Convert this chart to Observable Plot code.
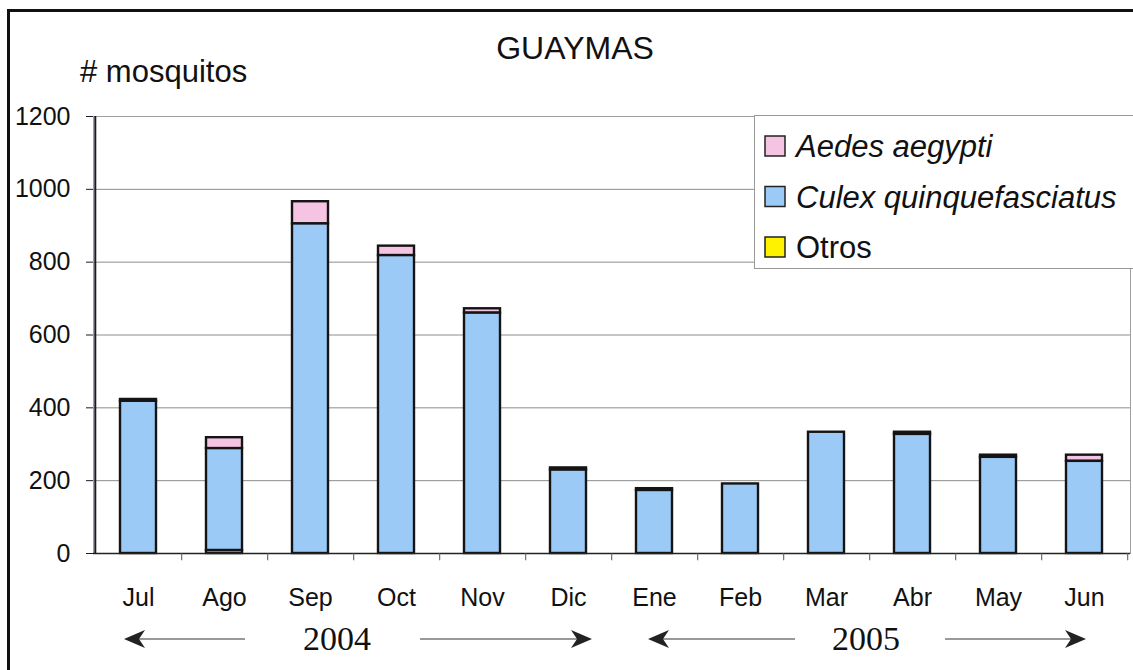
<!DOCTYPE html>
<html><head><meta charset="utf-8">
<script src="https://cdn.jsdelivr.net/npm/d3@7"></script>
<script src="https://cdn.jsdelivr.net/npm/@observablehq/plot@0.6"></script>
<style>
body{margin:0;background:#fff;}
#wrap{position:relative;width:1133px;height:670px;overflow:hidden;font-family:"Liberation Sans",Arial,sans-serif;background:#fff;}
#wrap svg{position:absolute;left:0;top:0;}
</style></head><body><div id="wrap"></div>
<script>
// ---- data ----
const months = ["Jul","Ago","Sep","Oct","Nov","Dic","Ene","Feb","Mar","Abr","May","Jun"];
const aedes  = [5, 30, 61, 26, 12, 6, 5, 0, 0, 6, 6, 17];
const culex  = [418, 280, 905, 818, 660, 229, 173, 191, 333, 327, 264, 253];
const otros  = [0, 8, 0, 0, 0, 0, 0, 0, 0, 0, 0, 0];
const species = ["Aedes aegypti", "Culex quinquefasciatus", "Otros"];
const speciesColors = ["#f4c4e2", "#9ccaf6", "#fff200"];
const yTicks = [0, 200, 400, 600, 800, 1000, 1200];
const years = ["2004", "2005"];
const titleText = "GUAYMAS";
const yLabel = "# mosquitos";

const rows = [];
months.forEach((m, i) => {
  [aedes, culex, otros].forEach((arr, j) => {
    if (arr[i] > 0) rows.push({month: m, species: species[j], value: arr[i]});
  });
});

// ---- layout ----
const W = 1133, H = 670, ml = 93, mr = 3, mt = 116, mb = 117;
const step = (W - ml - mr) / months.length;

const plot = Plot.plot({
  width: W, height: H,
  marginLeft: ml, marginRight: mr, marginTop: mt, marginBottom: mb,
  style: {fontFamily: "'Liberation Sans', Arial, sans-serif", background: "transparent", overflow: "visible"},
  x: {domain: months, paddingInner: 0.58, paddingOuter: 0.29, label: null},
  y: {domain: [0, 1200], label: null},
  color: {domain: species, range: speciesColors},
  marks: [
    Plot.gridY(yTicks.slice(1), {stroke: "#8c8c8c", strokeOpacity: 1, strokeWidth: 1}),
    Plot.frame({stroke: "#a0a0a0", strokeWidth: 1}),
    Plot.barY(rows, {
      x: "month", y: "value", fill: "species",
      order: ["Otros", "Culex quinquefasciatus", "Aedes aegypti"],
      stroke: "#141414", strokeWidth: 2.4
    }),
    Plot.ruleY([0], {stroke: "#222", strokeWidth: 1.5}),
    Plot.ruleX([months[0]], {dx: -step / 2, stroke: "#1a1a2a", strokeWidth: 2}),
    Plot.ruleX(months, {dx: step / 2, y1: 0, y2: -20, stroke: "#555", strokeWidth: 1}),
    Plot.axisY({ticks: yTicks, tickFormat: d => String(d), tickSize: 7, tickPadding: 16, fontSize: 25, stroke: "#1a1a2a", fill: "#111"}),
    Plot.axisX({tickSize: 0, tickPadding: 35, fontSize: 25, fill: "#111"})
  ]
});
document.getElementById("wrap").appendChild(plot);

// ---- overlay: frame, title, y label, legend, year arrows ----
const ov = d3.select("#wrap").append("svg")
  .attr("width", W).attr("height", H)
  .style("font-family", "'Liberation Sans', Arial, sans-serif");

ov.append("rect").attr("x", 8.5).attr("y", 10.5).attr("width", 1200).attr("height", 800)
  .attr("fill", "none").attr("stroke", "#111").attr("stroke-width", 3);

ov.append("text").attr("x", 575).attr("y", 59).attr("text-anchor", "middle")
  .attr("font-size", 32).attr("fill", "#111").text(titleText);
ov.append("text").attr("x", 80).attr("y", 82)
  .attr("font-size", 31).attr("fill", "#111").text(yLabel);

// legend
const lg = ov.append("g");
lg.append("rect").attr("x", 754.5).attr("y", 115.5).attr("width", 400).attr("height", 153)
  .attr("fill", "#fff").attr("stroke", "#999").attr("stroke-width", 1);
species.forEach((s, i) => {
  lg.append("rect").attr("x", 765).attr("y", 136 + i * 50.5).attr("width", 20).attr("height", 20)
    .attr("fill", speciesColors[i]).attr("stroke", "#222").attr("stroke-width", 1.5);
  lg.append("text").attr("x", 796).attr("y", 157 + i * 50.5)
    .attr("font-size", 31).attr("fill", "#111")
    .attr("font-style", s === "Otros" ? "normal" : "italic").text(s);
});

// year rows with arrows
const yearLayout = [
  {text: 337, l1: 124, l2: 245, r1: 420, r2: 592},
  {text: 866, l1: 648, l2: 795, r1: 945, r2: 1086}
];
const ay = 639;
years.forEach((yr, i) => {
  const L = yearLayout[i];
  ov.append("text").attr("x", L.text).attr("y", 650).attr("text-anchor", "middle")
    .attr("font-family", "'Liberation Serif', 'Times New Roman', serif")
    .attr("font-size", 34).attr("fill", "#111").text(yr);
  ov.append("line").attr("x1", L.l1 + 14).attr("x2", L.l2).attr("y1", ay).attr("y2", ay)
    .attr("stroke", "#777").attr("stroke-width", 1.5);
  ov.append("line").attr("x1", L.r1).attr("x2", L.r2 - 14).attr("y1", ay).attr("y2", ay)
    .attr("stroke", "#777").attr("stroke-width", 1.5);
  ov.append("path")
    .attr("d", `M${L.l1},${ay} L${L.l1 + 21},${ay - 9} L${L.l1 + 15},${ay} L${L.l1 + 21},${ay + 9} Z`)
    .attr("fill", "#222");
  ov.append("path")
    .attr("d", `M${L.r2},${ay} L${L.r2 - 21},${ay - 9} L${L.r2 - 15},${ay} L${L.r2 - 21},${ay + 9} Z`)
    .attr("fill", "#222");
});
</script>
</body></html>
